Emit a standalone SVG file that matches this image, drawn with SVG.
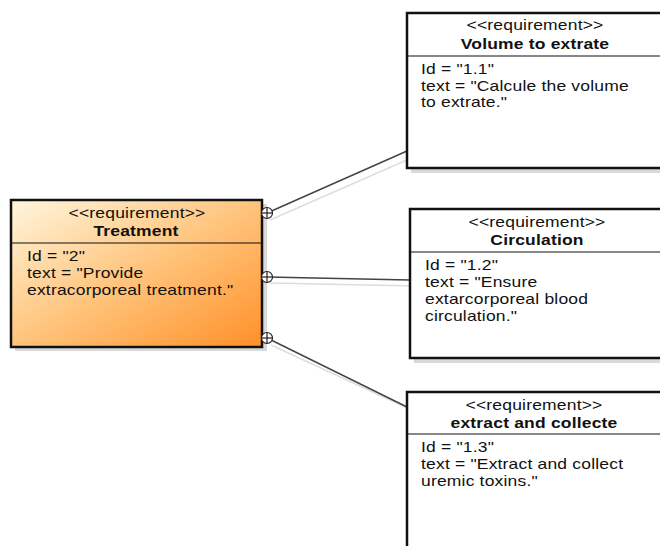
<svg xmlns="http://www.w3.org/2000/svg" width="660" height="546" viewBox="0 0 660 546">
  <defs>
    <linearGradient id="orangeFill" x1="0" y1="0" x2="1" y2="1">
      <stop offset="0" stop-color="#FFF6DE"/>
      <stop offset="0.5" stop-color="#FFC47C"/>
      <stop offset="1" stop-color="#FF9028"/>
    </linearGradient>
    <g id="port">
      <circle r="5.5" fill="#fff" stroke="#222" stroke-width="1.2"/>
      <line x1="-5.5" y1="0" x2="5.5" y2="0" stroke="#222" stroke-width="1.2"/>
      <line x1="0" y1="-5.5" x2="0" y2="5.5" stroke="#222" stroke-width="1.2"/>
    </g>
  </defs>
  <style>
    /* labels use a horizontally widened sans face */
    text { font-family: "Liberation Sans", Arial, sans-serif; font-size: 14px; letter-spacing: 0.15px; fill: #111; }
    .stereo { text-anchor: middle; }
    .name { text-anchor: middle; font-weight: bold; }
    .box { fill: #fff; stroke: #111; stroke-width: 2.5; }
    .shadow { fill: #d9d9d9; }
    .div { stroke: #111; stroke-width: 1.2; }
    .conn { stroke: #444; stroke-width: 1.4; fill: none; }
    .connShadow { stroke: #ddd; stroke-width: 1.4; fill: none; }
  </style>

  <rect width="660" height="546" fill="#fff"/>

  <!-- connectors -->
  <g id="connectors">
    <line class="connShadow" x1="270" y1="220" x2="416" y2="156"/>
    <line class="connShadow" x1="270" y1="283" x2="416" y2="286"/>
    <line class="connShadow" x1="271" y1="345" x2="416" y2="412"/>
    <line class="conn" x1="267" y1="213" x2="407" y2="151"/>
    <line class="conn" x1="267" y1="277" x2="410" y2="280"/>
    <line class="conn" x1="267" y1="338" x2="407" y2="407"/>
  </g>

  <!-- Treatment -->
  <g id="treatment">
    <rect class="shadow" x="15" y="204" width="252" height="147"/>
    <rect x="11" y="200" width="251" height="147" fill="url(#orangeFill)" stroke="#111" stroke-width="2.5"/>
    <line class="div" x1="11" y1="243" x2="262" y2="243"/>
    <text class="stereo" transform="translate(137 218) scale(1.25 1)">&lt;&lt;requirement&gt;&gt;</text>
    <text class="name" transform="translate(136 236) scale(1.25 1)">Treatment</text>
    <text transform="translate(27 261) scale(1.25 1)">Id = "2"</text>
    <text transform="translate(27 278) scale(1.25 1)">text = "Provide</text>
    <text transform="translate(27 295) scale(1.25 1)">extracorporeal treatment."</text>
  </g>

  <use href="#port" x="267" y="213"/>
  <use href="#port" x="267" y="277"/>
  <use href="#port" x="267" y="338"/>

  <!-- Volume to extrate -->
  <g id="volume">
    <rect class="shadow" x="411" y="17" width="260" height="156"/>
    <rect class="box" x="407" y="13" width="262" height="155"/>
    <line class="div" x1="407" y1="56" x2="660" y2="56"/>
    <text class="stereo" transform="translate(535 30) scale(1.25 1)">&lt;&lt;requirement&gt;&gt;</text>
    <text class="name" transform="translate(535 49) scale(1.25 1)">Volume to extrate</text>
    <text transform="translate(421 74) scale(1.25 1)">Id = "1.1"</text>
    <text transform="translate(421 91) scale(1.25 1)">text = "Calcule the volume</text>
    <text transform="translate(421 107) scale(1.25 1)">to extrate."</text>
  </g>

  <!-- Circulation -->
  <g id="circulation">
    <rect class="shadow" x="414" y="213" width="260" height="150"/>
    <rect class="box" x="410" y="209" width="262" height="149"/>
    <line class="div" x1="410" y1="252" x2="660" y2="252"/>
    <text class="stereo" transform="translate(537 227) scale(1.25 1)">&lt;&lt;requirement&gt;&gt;</text>
    <text class="name" transform="translate(537 245) scale(1.25 1)">Circulation</text>
    <text transform="translate(425 270) scale(1.25 1)">Id = "1.2"</text>
    <text transform="translate(425 287) scale(1.25 1)">text = "Ensure</text>
    <text transform="translate(425 304) scale(1.25 1)">extarcorporeal blood</text>
    <text transform="translate(425 321) scale(1.25 1)">circulation."</text>
  </g>

  <!-- extract and collecte -->
  <g id="extract">
    <rect class="box" x="407" y="392" width="262" height="170"/>
    <line class="div" x1="407" y1="434" x2="660" y2="434"/>
    <text class="stereo" transform="translate(534 410) scale(1.25 1)">&lt;&lt;requirement&gt;&gt;</text>
    <text class="name" transform="translate(534 428) scale(1.25 1)">extract and collecte</text>
    <text transform="translate(421 452) scale(1.25 1)">Id = "1.3"</text>
    <text transform="translate(421 469) scale(1.25 1)">text = "Extract and collect</text>
    <text transform="translate(421 486) scale(1.25 1)">uremic toxins."</text>
  </g>
</svg>
